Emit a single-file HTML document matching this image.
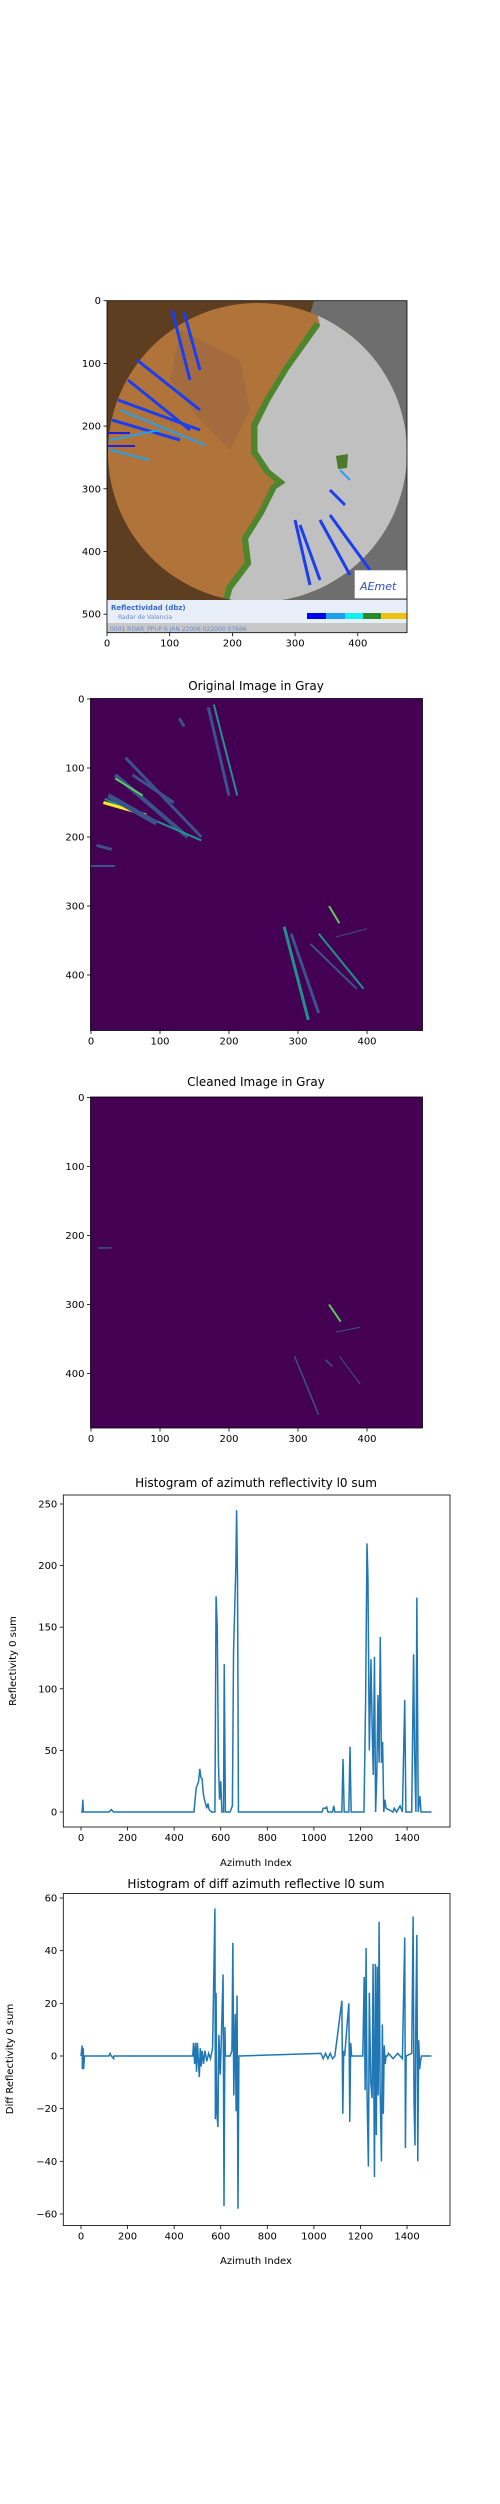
<!DOCTYPE html>
<html><head><meta charset="utf-8">
<style>
body{margin:0;background:#fff;width:500px;height:2500px;overflow:hidden;font-family:"DejaVu Sans","Liberation Sans",sans-serif;}
svg text{font-family:"DejaVu Sans","Liberation Sans",sans-serif;}
</style></head>
<body>
<svg id="s" width="500" height="2500" viewBox="0 0 500 2500" xmlns="http://www.w3.org/2000/svg">
  <!-- Plot 1: radar map -->
  <g>
    <clipPath id="c1"><rect x="107" y="300.7" width="300" height="332"/></clipPath>
    <clipPath id="circ"><circle cx="257.5" cy="452.5" r="149.5"/></clipPath>
    <g clip-path="url(#c1)">
      <rect x="107" y="300.7" width="300" height="332" fill="#5e3e20"/>
      <polygon points="313.9,300.7 408,300.7 408,633 219.9,633" fill="#6e6e6e"/>
      <g clip-path="url(#circ)">
        <rect x="107" y="300.7" width="300" height="332" fill="#b0733a"/>
        <path d="M180,330 L240,360 L250,410 L230,450 L200,420 L170,380 Z" fill="#a06a40" opacity="0.7"/>
        <path d="M320,325 L289,370 L270,401 L257,426 L257,451 L270,470 L285,482 L276,489 L264,514 L248,539 L251,564 L232,589 L220,633" stroke="#3c8a2a" stroke-width="12" fill="none" opacity="0.85"/>
        <polygon points="313.9,300.7 408,300.7 408,633 219.9,633 232.4,589.1 251.2,564 248.1,539 263.8,513.9 276.3,488.8 285.7,482.5 270,470 257.5,451.2 257.5,426.1 270,401 288.8,369.7 320.2,325.8" fill="#c0c0c0"/>
      </g>
      <path d="M336,456 L348,454 L347,468 L338,469 Z" fill="#4a7a2a"/>
      <path d="M172,310 L190,380 M184,312 L200,370 M137,360 L200,410 M128,380 L190,430 M118,400 L200,430 M112,420 L180,440" stroke="#1a3ef0" stroke-width="3" fill="none"/>
      <path d="M110,440 L160,430 M110,450 L150,460 M120,410 L205,445" stroke="#26a0f0" stroke-width="2" fill="none"/>
      <path d="M108,433 L130,433 M108,446 L135,446" stroke="#2020e0" stroke-width="2"/>
      <path d="M295,520 L310,585 M300,525 L320,580 M320,520 L350,575 M330,515 L370,570 M330,490 L345,505" stroke="#1a3ef0" stroke-width="3" fill="none"/>
      <path d="M340,470 L350,480" stroke="#2aa0f0" stroke-width="2"/>
      <rect x="107" y="600" width="300" height="23" fill="#e8eef8"/>
      <rect x="107" y="623" width="300" height="10" fill="#c8c8c8"/>
      <text x="111" y="610" font-size="7" fill="#3a6ad0" font-weight="bold">Reflectividad (dbz)</text>
      <text x="118" y="619" font-size="6" fill="#6a8ad0">Radar de Valencia</text>
      <rect x="354.7" y="570.3" width="52" height="28" fill="#fff"/>
      <text x="360" y="590" font-size="11" fill="#3050c0" font-style="italic">AEmet</text>
      <rect x="307" y="613" width="19" height="6" fill="#0000f0"/><rect x="326" y="613" width="19" height="6" fill="#1aa0f0"/>
      <rect x="345" y="613" width="18" height="6" fill="#10f0f0"/><rect x="363" y="613" width="18" height="6" fill="#2a8a2a"/>
      <rect x="381" y="613" width="26" height="6" fill="#f0c010"/>
      <text x="110" y="631" font-size="6" fill="#6a8ad0">0001 RDAR_PPI-P     6 JAN 22006 022000 07666</text>
    </g>
    <rect x="107" y="300.7" width="300" height="332" fill="none" stroke="#000" stroke-width="0.8"/>
    <g id="ax1"></g>
  </g>
  <!-- Plot 2 -->
  <text x="256" y="690" font-size="12" text-anchor="middle">Original Image in Gray</text>
  <g>
    <rect x="90.5" y="698.5" width="332" height="332" fill="#440154"/>
    <g id="img2"></g>
    <rect x="90.5" y="698.5" width="332" height="332" fill="none" stroke="#000" stroke-width="0.8"/>
    <g id="ax2"></g>
  </g>
  <!-- Plot 3 -->
  <text x="256" y="1086" font-size="12" text-anchor="middle">Cleaned Image in Gray</text>
  <g>
    <rect x="90.5" y="1097" width="332" height="331" fill="#440154"/>
    <g id="img3"></g>
    <rect x="90.5" y="1097" width="332" height="331" fill="none" stroke="#000" stroke-width="0.8"/>
    <g id="ax3"></g>
  </g>
  <!-- Plot 4 -->
  <text x="256" y="1487" font-size="12" text-anchor="middle">Histogram of azimuth reflectivity l0 sum</text>
  <g>
    <rect x="63.3" y="1495" width="386.7" height="332" fill="#fff" stroke="#000" stroke-width="0.8"/>
    <g id="ax4"></g>
    <text x="256" y="1866" font-size="10" text-anchor="middle">Azimuth Index</text>
    <text transform="translate(16,1661) rotate(-90)" font-size="10" text-anchor="middle">Reflectivity 0 sum</text>
  </g>
  <!-- Plot 5 -->
  <text x="256" y="1888" font-size="12" text-anchor="middle">Histogram of diff azimuth reflective l0 sum</text>
  <g>
    <rect x="63.3" y="1893.5" width="386.7" height="332" fill="#fff" stroke="#000" stroke-width="0.8"/>
    <g id="ax5"></g>
    <text x="256" y="2264" font-size="10" text-anchor="middle">Azimuth Index</text>
    <text transform="translate(13,2059) rotate(-90)" font-size="10" text-anchor="middle">Diff Reflectivity 0 sum</text>
  </g>
</svg>
<script>
const histIdx=[0,5,8,10,120,130,140,485,495,500,505,510,515,520,525,530,540,545,550,560,575,580,585,590,595,600,605,612,615,620,640,650,655,665,668,672,676,1035,1040,1050,1055,1060,1080,1085,1090,1120,1125,1130,1150,1155,1160,1215,1222,1228,1232,1238,1245,1250,1255,1260,1265,1270,1275,1280,1285,1290,1295,1300,1305,1310,1340,1345,1355,1370,1380,1390,1395,1420,1428,1432,1438,1442,1448,1455,1460,1505];
const histVals=[0,0,10,0,0,2,0,0,20,22,25,35,28,27,15,10,3,7,2,0,0,175,150,40,10,25,0,0,120,0,0,5,130,200,245,190,0,0,3,3,4,0,0,5,0,0,43,0,0,53,0,0,90,218,190,50,124,70,30,126,0,30,95,40,142,40,57,0,10,3,0,3,0,5,0,91,0,0,128,50,0,174,0,13,0,0];
const diffIdx=[0,5,6,10,11,15,120,125,130,140,141,480,483,488,492,496,500,504,508,512,516,520,526,532,540,548,556,565,575,577,580,583,588,592,598,603,610,614,618,620,640,648,652,656,662,666,670,674,678,680,1030,1040,1050,1060,1070,1080,1090,1120,1124,1128,1132,1150,1154,1158,1162,1210,1216,1220,1224,1228,1234,1238,1244,1250,1254,1260,1264,1268,1272,1276,1280,1284,1290,1294,1298,1302,1306,1310,1316,1320,1340,1360,1380,1390,1393,1396,1420,1426,1430,1434,1438,1442,1446,1450,1454,1458,1462,1470,1505];
const diffVals=[0,4,-5,3,-5,0,0,1,0,-1,0,0,5,-3,5,-6,5,-2,-8,3,-4,2,-3,2,-2,1,-1,3,56,-24,24,-21,-27,8,-7,8,31,-57,11,0,0,2,43,-15,16,-21,23,-58,0,0,1,-1,1,-1,1,-1,0,21,-22,2,0,20,-25,5,0,0,30,-13,41,-13,-42,24,-10,-16,35,-46,35,-30,34,-15,51,-10,-40,12,-22,4,-3,0,0,1,-1,1,-1,45,-35,0,1,53,-18,-34,17,46,-40,6,-5,-2,0,0,0];
const ticks1Y=[0,100,200,300,400,500];const ticks1X=[0,100,200,300,400];
const ticksImgY=[0,100,200,300,400];const ticksImgX=[0,100,200,300,400];
const histTicksX=[0,200,400,600,800,1000,1200,1400];
const histTicksY=[0,50,100,150,200,250];
const diffTicksY=[-60,-40,-20,0,20,40,60];
const NS="http://www.w3.org/2000/svg";
function mk(p,tag,at){const e=document.createElementNS(NS,tag);for(const k in at)e.setAttribute(k,at[k]);p.appendChild(e);return e;}
function fmt(v){return v<0?"\u2212"+(-v):String(v);}
function axes(g,xt,yt,fx,fy,x0,yb,name){
  xt.forEach(v=>{const x=fx(v);
    const l=mk(g,'line',{x1:x,x2:x,y1:yb,y2:yb+3.5,stroke:'#000','stroke-width':0.8});
    
    
    const t=mk(g,'text',{x:x,y:yb+14,'font-size':10,'text-anchor':'middle'});t.textContent=fmt(v);
    
    });
  yt.forEach(v=>{const y=fy(v);
    const l=mk(g,'line',{x1:x0-3.5,x2:x0,y1:y,y2:y,stroke:'#000','stroke-width':0.8});
    
    
    const t=mk(g,'text',{x:x0-6,y:y+3.5,'font-size':10,'text-anchor':'end'});t.textContent=fmt(v);
    
    });
}
axes(document.getElementById('ax1'),ticks1X,ticks1Y,u=>107+u*0.627,v=>300.7+v*0.627,107,632.7,'map');
const i2x=u=>91+u*0.69, i2y=v=>699+v*0.69, i3y=v=>1097.5+v*0.69;
axes(document.getElementById('ax2'),ticksImgX,ticksImgY,i2x,i2y,90.5,1030.5,'original');
axes(document.getElementById('ax3'),ticksImgX,ticksImgY,i2x,i3y,90.5,1428,'cleaned');
const streaks2=[[178,8,212,140,'#21918c',2],[170,12,200,140,'#3b528b',3],[128,28,135,40,'#3b528b',3],[50,85,160,200,'#3b528b',3],[35,110,140,200,'#3b528b',4],[20,145,160,205,'#21918c',2],[18,150,80,168,'#fde725',3],[25,140,95,180,'#3b528b',5],[35,115,75,140,'#5ec962',2],[60,110,120,150,'#3b528b',3],[8,212,30,218,'#3b528b',3],[0,242,35,242,'#3b528b',2],[280,330,315,465,'#21918c',3],[290,340,330,455,'#3b528b',3],[318,355,385,420,'#3b528b',2],[330,340,395,420,'#21918c',2],[345,300,360,325,'#5ec962',2],[355,345,400,333,'#3b528b',1]];
const g2=document.getElementById('img2');
streaks2.forEach(s=>{const l=mk(g2,'line',{x1:i2x(s[0]),y1:i2y(s[1]),x2:i2x(s[2]),y2:i2y(s[3]),stroke:s[4],'stroke-width':s[5]});
  
  });
const streaks3=[[10,218,30,218,'#3b528b',1.5],[295,375,330,460,'#3b528b',1.5],[345,300,362,325,'#5ec962',2],[355,340,390,333,'#3b528b',1],[360,375,390,415,'#3b528b',1],[340,380,350,390,'#3b528b',1.5]];
const g3=document.getElementById('img3');
streaks3.forEach(s=>{const l=mk(g3,'line',{x1:i2x(s[0]),y1:i3y(s[1]),x2:i2x(s[2]),y2:i3y(s[3]),stroke:s[4],'stroke-width':s[5]});
  
  });
const hx=u=>81+u*0.2329;
const hy=v=>1812-v*1.232, dy=v=>2056-v*2.633;
axes(document.getElementById('ax4'),histTicksX,histTicksY,hx,hy,63.3,1827,'hist');
axes(document.getElementById('ax5'),histTicksX,diffTicksY,hx,dy,63.3,2225.5,'diff');
const p4=mk(document.getElementById('ax4'),'polyline',{points:histIdx.map((x,i)=>hx(x)+','+hy(histVals[i])).join(' '),fill:'none',stroke:'#1f77b4','stroke-width':1.5});


const p5=mk(document.getElementById('ax5'),'polyline',{points:diffIdx.map((x,i)=>hx(x)+','+dy(diffVals[i])).join(' '),fill:'none',stroke:'#1f77b4','stroke-width':1.5});


</script>
</body></html>
